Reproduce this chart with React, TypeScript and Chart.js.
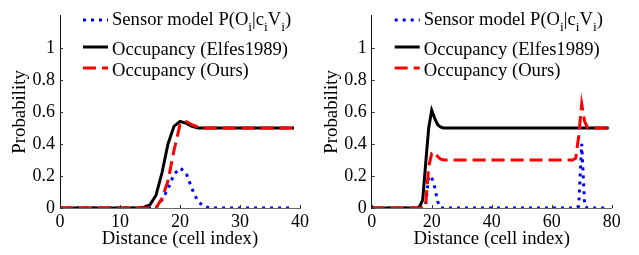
import { useEffect, useRef } from "react";
import { Chart, registerables } from "chart.js";
Chart.register(...registerables);

// ---------- data ----------
const leftTicksX = [0, 10, 20, 30, 40];
const rightTicksX = [0, 20, 40, 60, 80];
const yTicks = [0, 0.2, 0.4, 0.6, 0.8, 1];

const legendLabels = ["Sensor model P(O|cV)", "Occupancy (Elfes1989)", "Occupancy (Ours)"];

// left panel: cell index 0..39
const leftSensor = [
  0, 0, 0, 0, 0, 0, 0, 0, 0, 0,
  0, 0, 0, 0, 0, 0, 0, 0.05, 0.12, 0.21,
  0.25, 0.22, 0.12, 0.04, 0.01, 0, 0, 0, 0, 0,
  0, 0, 0, 0, 0, 0, 0, 0, 0, 0,
];
const leftElfes = [
  0, 0, 0, 0, 0, 0, 0, 0, 0, 0,
  0, 0, 0, 0, 0.005, 0.02, 0.08, 0.22, 0.4, 0.51,
  0.54, 0.53, 0.51, 0.5, 0.5, 0.5, 0.5, 0.5, 0.5, 0.5,
  0.5, 0.5, 0.5, 0.5, 0.5, 0.5, 0.5, 0.5, 0.5, 0.5,
];
const leftOurs = [
  0, 0, 0, 0, 0, 0, 0, 0, 0, 0,
  0, 0, 0, 0, 0, 0, 0, 0.06, 0.17, 0.36,
  0.52, 0.54, 0.52, 0.505, 0.5, 0.5, 0.5, 0.5, 0.5, 0.5,
  0.5, 0.5, 0.5, 0.5, 0.5, 0.5, 0.5, 0.5, 0.5, 0.5,
];

// right panel: cell index 0..79
const rightSensor = [
  0, 0, 0, 0, 0, 0, 0, 0, 0, 0,
  0, 0, 0, 0, 0, 0, 0, 0, 0.02, 0.2,
  0.19, 0.13, 0.04, 0, 0, 0, 0, 0, 0, 0,
  0, 0, 0, 0, 0, 0, 0, 0, 0, 0,
  0, 0, 0, 0, 0, 0, 0, 0, 0, 0,
  0, 0, 0, 0, 0, 0, 0, 0, 0, 0,
  0, 0, 0, 0, 0, 0, 0, 0, 0, 0.01,
  0.4, 0.01, 0, 0, 0, 0, 0, 0, 0, 0,
];
const rightElfes = [
  0, 0, 0, 0, 0, 0, 0, 0, 0, 0,
  0, 0, 0, 0, 0, 0, 0.01, 0.05, 0.28, 0.5,
  0.61, 0.56, 0.52, 0.505, 0.5, 0.5, 0.5, 0.5, 0.5, 0.5,
  0.5, 0.5, 0.5, 0.5, 0.5, 0.5, 0.5, 0.5, 0.5, 0.5,
  0.5, 0.5, 0.5, 0.5, 0.5, 0.5, 0.5, 0.5, 0.5, 0.5,
  0.5, 0.5, 0.5, 0.5, 0.5, 0.5, 0.5, 0.5, 0.5, 0.5,
  0.5, 0.5, 0.5, 0.5, 0.5, 0.5, 0.5, 0.5, 0.5, 0.5,
  0.5, 0.5, 0.5, 0.5, 0.5, 0.5, 0.5, 0.5, 0.5, 0.5,
];
const rightOurs = [
  0, 0, 0, 0, 0, 0, 0, 0, 0, 0,
  0, 0, 0, 0, 0, 0, 0, 0, 0.02, 0.26,
  0.34, 0.35, 0.32, 0.305, 0.3, 0.3, 0.3, 0.3, 0.3, 0.3,
  0.3, 0.3, 0.3, 0.3, 0.3, 0.3, 0.3, 0.3, 0.3, 0.3,
  0.3, 0.3, 0.3, 0.3, 0.3, 0.3, 0.3, 0.3, 0.3, 0.3,
  0.3, 0.3, 0.3, 0.3, 0.3, 0.3, 0.3, 0.3, 0.3, 0.3,
  0.3, 0.3, 0.3, 0.3, 0.3, 0.3, 0.3, 0.3, 0.31, 0.45,
  0.65, 0.54, 0.5, 0.5, 0.5, 0.5, 0.5, 0.5, 0.5, 0.5,
];

// ---------- styling ----------
const FONT = "'Liberation Serif', 'Times New Roman', serif";
const BLUE = "#0000ff";
const BLACK = "#000000";
const RED = "#ff0000";
const styles = [
  { color: BLUE, dash: [3, 5], width: 3, order: 3 },
  { color: BLACK, dash: [] as number[], width: 3, order: 2 },
  { color: RED, dash: [13, 6], width: 3, order: 1 },
];

type Seg = { t: string; sub?: boolean };
const legendSegs: Seg[][] = [
  [
    { t: "Sensor model P(O" },
    { t: "i", sub: true },
    { t: "|c" },
    { t: "i", sub: true },
    { t: "V" },
    { t: "i", sub: true },
    { t: ")" },
  ],
  [{ t: legendLabels[1] }],
  [{ t: legendLabels[2] }],
];

const decorPlugin = (xTicks: number[]) => ({
  id: "decor",
  afterDraw(chart: any) {
    const ctx: CanvasRenderingContext2D = chart.ctx;
    const { left, bottom } = chart.chartArea;
    const xs = chart.scales.x;
    const ys = chart.scales.y;
    ctx.save();
    ctx.strokeStyle = "#333";
    ctx.lineWidth = 1;
    xTicks.forEach((v) => {
      const px = Math.round(xs.getPixelForValue(v)) + 0.5;
      ctx.beginPath();
      ctx.moveTo(px, bottom);
      ctx.lineTo(px, bottom - 3);
      ctx.stroke();
    });
    yTicks.forEach((v) => {
      const py = Math.round(ys.getPixelForValue(v)) + 0.5;
      ctx.beginPath();
      ctx.moveTo(left, py);
      ctx.lineTo(left + 3, py);
      ctx.stroke();
    });
    // legend
    const lineY = [20, 47, 68];
    const baseY = [25, 55, 76];
    for (let r = 0; r < 3; r++) {
      const s = styles[r];
      ctx.strokeStyle = s.color;
      ctx.lineWidth = s.width;
      ctx.setLineDash(s.dash);
      ctx.beginPath();
      ctx.moveTo(left + 23, lineY[r]);
      ctx.lineTo(left + 48, lineY[r]);
      ctx.stroke();
      ctx.setLineDash([]);
      let x = left + 52;
      ctx.fillStyle = "#000";
      ctx.textBaseline = "alphabetic";
      ctx.textAlign = "left";
      for (const seg of legendSegs[r]) {
        ctx.font = seg.sub ? `13.5px ${FONT}` : `18.6px ${FONT}`;
        ctx.fillText(seg.t, x, baseY[r] + (seg.sub ? 6 : 0));
        x += ctx.measureText(seg.t).width;
      }
    }
    ctx.restore();
  },
});

function Panel(props: {
  data: number[][];
  xMax: number;
  xTicks: number[];
  yAxisWidth: number;
  padRight: number;
  yTitlePad: number;
  left: number;
  width: number;
}) {
  const ref = useRef<HTMLCanvasElement>(null);
  useEffect(() => {
    if (!ref.current) return;
    const chart = new Chart(ref.current, {
      type: "line",
      data: {
        datasets: props.data.map((arr, k) => ({
          label: legendLabels[k],
          data: arr.map((y, i) => ({ x: i, y })),
          borderColor: styles[k].color,
          borderWidth: styles[k].width,
          borderDash: styles[k].dash,
          borderCapStyle: "butt",
          pointRadius: 0,
          tension: 0,
          fill: false,
          order: styles[k].order,
        })),
      },
      options: {
        animation: false,
        responsive: false,
        layout: { padding: { left: 0, right: props.padRight, top: 1.6, bottom: 0 } },
        plugins: { legend: { display: false }, tooltip: { enabled: false } },
        scales: {
          x: {
            type: "linear",
            min: 0,
            max: props.xMax,
            afterBuildTicks: (s: any) => {
              s.ticks = props.xTicks.map((value) => ({ value }));
            },
            afterFit: (s: any) => {
              s.height = 47;
            },
            grid: { display: false, drawTicks: false },
            border: { display: true, color: "#666", width: 1 },
            ticks: {
              color: "#000",
              font: { family: FONT, size: 18 },
              padding: 3,
              maxRotation: 0,
              callback: (v: any) => String(v),
            },
            title: {
              display: true,
              text: "Distance (cell index)",
              color: "#000",
              font: { family: FONT, size: 18.8 },
              padding: { top: 0, bottom: 5 },
            },
          },
          y: {
            type: "linear",
            min: 0,
            max: 1.2,
            afterBuildTicks: (s: any) => {
              s.ticks = yTicks.map((value) => ({ value }));
            },
            afterFit: (s: any) => {
              s.width = props.yAxisWidth;
            },
            grid: { display: false, drawTicks: false },
            border: { display: true, color: "#111", width: 1 },
            ticks: {
              color: "#000",
              font: { family: FONT, size: 18 },
              padding: 5,
              callback: (v: any) => String(Number(Number(v).toFixed(1))),
            },
            title: {
              display: true,
              text: "Probability",
              color: "#000",
              font: { family: FONT, size: 18.8 },
              padding: { top: props.yTitlePad, bottom: 0 },
            },
          },
        },
      },
      plugins: [decorPlugin(props.xTicks)],
    } as any);
    return () => chart.destroy();
  }, []);
  return (
    <canvas
      ref={ref}
      width={props.width}
      height={255}
      style={{ position: "absolute", left: props.left, top: 0, width: props.width, height: 255 }}
    />
  );
}

export default function App() {
  return (
    <div style={{ position: "absolute", left: 0, top: 0, width: 639, height: 255, background: "#fff" }}>
      <Panel
        data={[leftSensor, leftElfes, leftOurs]}
        xMax={40}
        xTicks={leftTicksX}
        yAxisWidth={60}
        padRight={20}
        yTitlePad={9}
        left={0}
        width={320}
      />
      <Panel
        data={[rightSensor, rightElfes, rightOurs]}
        xMax={80}
        xTicks={rightTicksX}
        yAxisWidth={51.7}
        padRight={27.3}
        yTitlePad={1}
        left={320}
        width={319}
      />
    </div>
  );
}
